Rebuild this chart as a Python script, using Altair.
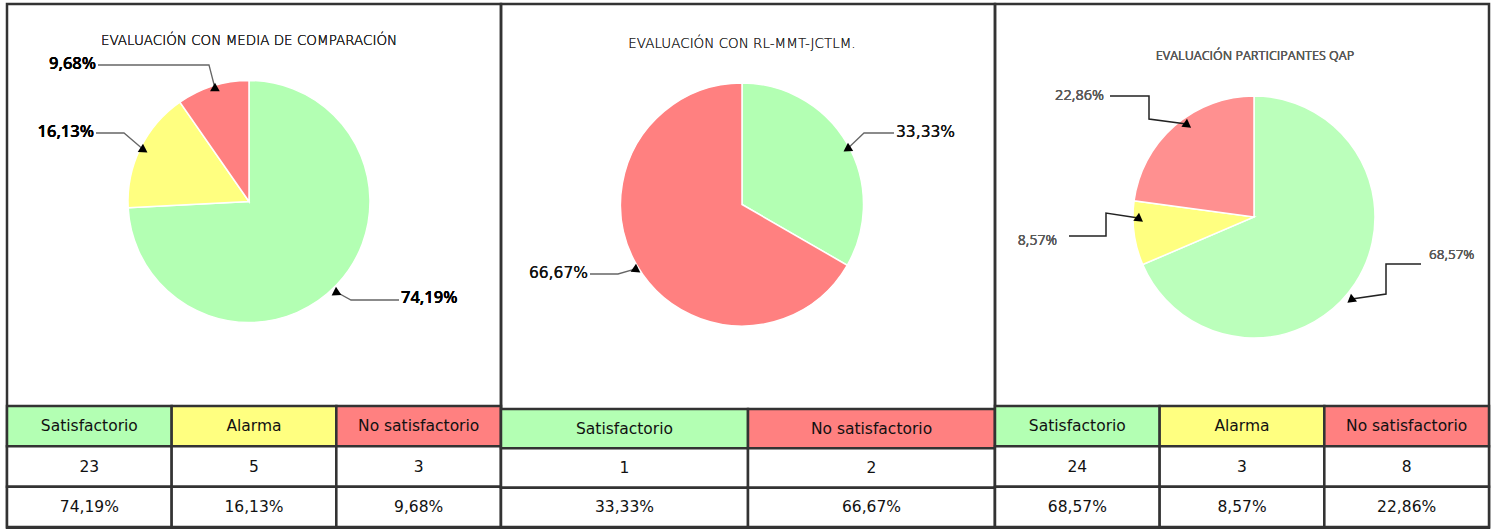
import math
import altair as alt
import pandas as pd

# ---------------- data ----------------
p1_title = "EVALUACIÓN CON MEDIA DE COMPARACIÓN"
p1_cats = ["Satisfactorio", "Alarma", "No satisfactorio"]
p1_counts = [23, 5, 3]
p1_pcts = ["74,19%", "16,13%", "9,68%"]

p2_title = "EVALUACIÓN CON RL-MMT-JCTLM."
p2_cats = ["Satisfactorio", "No satisfactorio"]
p2_counts = [1, 2]
p2_pcts = ["33,33%", "66,67%"]

p3_title = "EVALUACIÓN PARTICIPANTES QAP"
p3_cats = ["Satisfactorio", "Alarma", "No satisfactorio"]
p3_counts = [24, 3, 8]
p3_pcts = ["68,57%", "8,57%", "22,86%"]

# ---------------- styles / layout ----------------
TABLE_COLORS = {"Satisfactorio": "#b3ffb3", "Alarma": "#ffff80", "No satisfactorio": "#ff8080"}
PIE_COLORS_A = {"Satisfactorio": "#b3ffb3", "Alarma": "#ffff80", "No satisfactorio": "#ff8080"}
PIE_COLORS_B = {"Satisfactorio": "#bbffbb", "Alarma": "#ffff80", "No satisfactorio": "#ff9090"}

PW = 494      # panel width
PH = 525      # panel height
LEFT = 6      # page position of the first panel's left edge
TOP = 3
PAD_LEFT = 4
PAD_TOP = 2

# annotation layout, absolute page coordinates
layout = [
    dict(title_xy=(248, 40), title_font="DejaVu Sans", title_size=13.5, title_color="#222", title_weight=300,
         pie=(248, 200.5, 121), table_y=(405, 526),
         lab_font="Open Sans", lab_color="#000", lab_weight=600, line_color="#666", line_w=1.3,
         labels={
             "9,68%": (95, 63, "right", 16.5, [(97, 64), (208, 64), (214, 82)]),
             "16,13%": (93, 131, "right", 16.5, [(95, 132), (123, 132), (142, 143)]),
             "74,19%": (400, 297, "left", 16.5, [(398, 299), (350, 299), (335, 286)]),
         }),
    dict(title_xy=(741, 43), title_font="DejaVu Sans", title_size=13.5, title_color="#222", title_weight=300,
         pie=(741, 203.5, 121.5), table_y=(408, 526),
         lab_font="DejaVu Sans", lab_color="#111", lab_weight="normal", line_color="#666", line_w=1.3,
         labels={
             "33,33%": (895, 131, "left", 15.5, [(893, 132), (863, 132), (847, 142)]),
             "66,67%": (587, 272, "right", 15.5, [(589, 273), (617, 273), (635, 263)]),
         }),
    dict(title_xy=(1254, 55), title_font="Open Sans", title_size=12.5, title_color="#595959", title_weight="normal",
         pie=(1253, 216, 121), table_y=(405, 526),
         lab_font="Open Sans", lab_color="#595959", lab_weight="normal", line_color="#222", line_w=1.5,
         labels={
             "22,86%": (1103, 95, "right", 14.5, [(1109, 95), (1148, 95), (1148, 118), (1186, 118)]),
             "8,57%": (1056, 240, "right", 14, [(1068, 235), (1105, 235), (1105, 212), (1138, 212)]),
             "68,57%": (1428, 254, "left", 13.5, [(1420, 263), (1385, 263), (1385, 293), (1350, 293)]),
         }),
]

panels_data = [
    (p1_title, p1_cats, p1_counts, p1_pcts, PIE_COLORS_A),
    (p2_title, p2_cats, p2_counts, p2_pcts, PIE_COLORS_A),
    (p3_title, p3_cats, p3_counts, p3_pcts, PIE_COLORS_B),
]


def build_panel(i):
    title, cats, counts, pcts, pie_colors = panels_data[i]
    L = layout[i]
    ox = LEFT + PW * i
    oy = TOP

    # --- pie ---
    pie_df = pd.DataFrame({
        "cat": cats, "count": counts, "idx": list(range(len(cats))),
        "fill": [pie_colors[c] for c in cats],
    })
    cx, cy, r = L["pie"]
    pie = alt.Chart(pie_df).mark_arc(radius=r, stroke="white", strokeWidth=1.5).encode(
        theta=alt.Theta("count:Q", stack=True),
        order=alt.Order("idx:Q"),
        fill=alt.Fill("fill:N", scale=None),
        x=alt.value(cx - ox), y=alt.value(cy - oy),
    )

    # --- table ---
    rows = []
    for c, n, p in zip(cats, counts, pcts):
        rows.append({"cat": c, "row": 0, "txt": c, "fill": TABLE_COLORS[c]})
        rows.append({"cat": c, "row": 1, "txt": str(n), "fill": "#ffffff"})
        rows.append({"cat": c, "row": 2, "txt": p, "fill": "#ffffff"})
    tdf = pd.DataFrame(rows)
    y0, y1 = L["table_y"]
    xenc = alt.X("cat:N", sort=cats, axis=None,
                 scale=alt.Scale(range=[0, PW], paddingInner=0, paddingOuter=0))
    yenc = alt.Y("row:O", axis=None,
                 scale=alt.Scale(range=[y0 - oy, y1 - oy], paddingInner=0, paddingOuter=0))
    trect = alt.Chart(tdf).mark_rect(stroke="#333", strokeWidth=2.5).encode(
        x=xenc, y=yenc, fill=alt.Fill("fill:N", scale=None))
    ttext = alt.Chart(tdf).mark_text(font="DejaVu Sans", fontSize=15.5, color="#111",
                                     baseline="middle", align="center").encode(
        x=xenc, y=yenc, text="txt:N")
    table = alt.layer(trect, ttext)

    layers = [table, pie]

    # --- title ---
    tx, ty = L["title_xy"]
    layers.append(alt.Chart(pie_df).mark_text(
        text=title, font=L["title_font"], fontSize=L["title_size"], color=L["title_color"],
        fontWeight=L["title_weight"], align="center", baseline="middle").encode(
        x=alt.value(tx - ox), y=alt.value(ty - oy)))

    # --- percentage callouts ---
    line_rows, head_rows = [], []
    for lab, (ax, ay, al, fs, path) in L["labels"].items():
        layers.append(alt.Chart(pie_df).mark_text(
            text=lab, font=L["lab_font"], fontSize=fs, color=L["lab_color"],
            fontWeight=L["lab_weight"], align=al, baseline="middle").encode(
            x=alt.value(ax - ox), y=alt.value(ay - oy)))
        (x1, y1_), (x2, y2) = path[-2], path[-1]
        dx, dy = x2 - x1, y2 - y1
        ln = math.hypot(dx, dy)
        ux, uy = dx / ln, dy / ln
        pts = list(path[:-1]) + [(x2 - ux * 5, y2 - uy * 5)]
        for k, (px, py) in enumerate(pts):
            line_rows.append({"lab": lab, "k": k, "px": px - ox, "py": py - oy})
        ang = (math.degrees(math.atan2(dx, -dy)) + 360) % 360
        head_rows.append({"lab": lab, "px": x2 - ux * 4 - ox, "py": y2 - uy * 4 - oy, "ang": ang})

    lines = alt.Chart(pd.DataFrame(line_rows)).mark_line(
        color=L["line_color"], strokeWidth=L["line_w"]).encode(
        x=alt.X("px:Q", scale=None), y=alt.Y("py:Q", scale=None),
        detail="lab:N", order="k:Q")
    heads = alt.Chart(pd.DataFrame(head_rows)).mark_point(
        shape="triangle-up", filled=True, color="#000", opacity=1, size=95).encode(
        x=alt.X("px:Q", scale=None), y=alt.Y("py:Q", scale=None),
        angle=alt.Angle("ang:Q", scale=None))
    layers += [lines, heads]

    return alt.layer(*layers).properties(width=PW, height=PH).resolve_scale(
        x="independent", y="independent")


chart = alt.hconcat(*[build_panel(i) for i in range(3)], spacing=0, bounds="flush").resolve_scale(
    theta="independent"
).properties(
    padding={"left": PAD_LEFT, "top": PAD_TOP, "right": 0, "bottom": 0},
    background="white",
).configure_view(stroke="#333", strokeWidth=2.5)

chart.save("out.html", embed_options={"renderer": "svg", "actions": False})
